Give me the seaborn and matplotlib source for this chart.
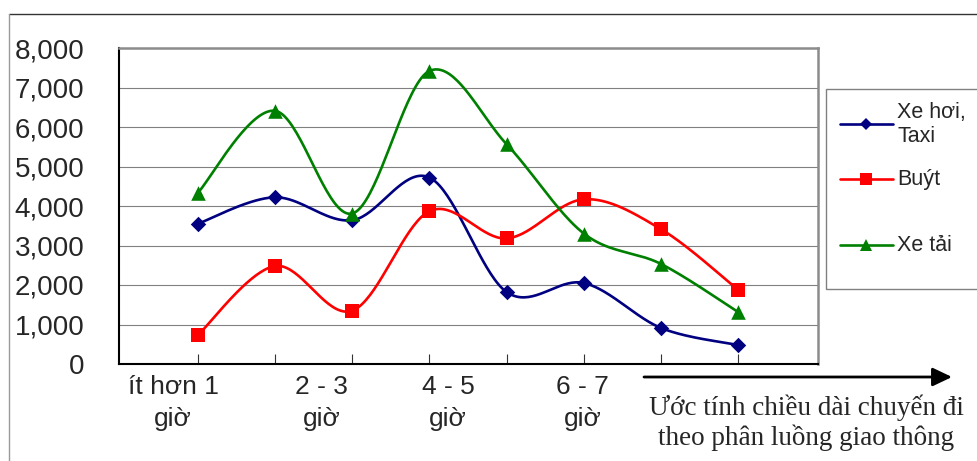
import numpy as np
import pandas as pd
import seaborn as sns
import matplotlib.pyplot as plt
from matplotlib.lines import Line2D
from matplotlib.patches import Rectangle

# Trip-length classes (hours) along the category axis
categories = ["<1", "1-2", "2-3", "3-4", "4-5", "5-6", "6-7", ">7"]
car_taxi = [3550, 4220, 3640, 4720, 1820, 2050, 910, 480]
bus = [730, 2480, 1350, 3870, 3180, 4170, 3410, 1870]
truck = [4330, 6410, 3810, 7420, 5560, 3300, 2530, 1310]

series_names = ["Xe hơi,\nTaxi", "Buýt", "Xe tải"]
series_values = [car_taxi, bus, truck]
series_colors = ["#000080", "#FF0000", "#008000"]
series_markers = ["D", "s", "^"]
series_sizes = [62, 110, 110]

xtick_labels = ["ít hơn 1\ngiờ", "2 - 3\ngiờ", "4 - 5\ngiờ", "6 - 7\ngiờ"]
xtick_positions = [-0.32, 1.60, 3.24, 4.98]
yticks = [0, 1000, 2000, 3000, 4000, 5000, 6000, 7000, 8000]
axis_caption = ["Ước tính chiều dài chuyến đi", "theo phân luồng giao thông"]

sns.set_theme(style="white")
plt.rcParams["font.family"] = ["Liberation Sans", "DejaVu Sans"]

W, H = 977, 461
fig = plt.figure(figsize=(W / 100, H / 100), dpi=100)
ax = fig.add_axes([119 / W, 1 - 364 / H, (818 - 119) / W, (364 - 48) / H])


def smooth(xs, ys, n=40):
    """Catmull-Rom style Bezier smoothing through every point."""
    P = np.column_stack([xs, ys]).astype(float)
    ext = np.vstack([P[0], P, P[-1]])
    out = []
    t = np.linspace(0, 1, n)[:, None]
    for i in range(len(P) - 1):
        p0, p1, p2, p3 = ext[i], ext[i + 1], ext[i + 2], ext[i + 3]
        c1 = p1 + (p2 - p0) / 6.0
        c2 = p2 - (p3 - p1) / 6.0
        seg = ((1 - t) ** 3) * p1 + 3 * ((1 - t) ** 2) * t * c1 + 3 * (1 - t) * t ** 2 * c2 + t ** 3 * p2
        out.append(seg if i == 0 else seg[1:])
    out = np.vstack(out)
    return out[:, 0], out[:, 1]


xpos = np.arange(len(categories))
for vals, color, mk, sz in zip(series_values, series_colors, series_markers, series_sizes):
    sx, sy = smooth(xpos, vals)
    curve = pd.DataFrame({"x": sx, "y": sy})
    sns.lineplot(data=curve, x="x", y="y", sort=False, estimator=None,
                 color=color, lw=1.9, ax=ax, zorder=3)
    pts = pd.DataFrame({"x": xpos, "y": vals})
    sns.scatterplot(data=pts, x="x", y="y", marker=mk, s=sz, color=color,
                    edgecolor=color, linewidth=0, ax=ax, zorder=4)

ax.set_xlim(-1.02, 8.03)
ax.set_ylim(0, 8000)
ax.set_xlabel("")
ax.set_ylabel("")

# horizontal gridlines
ax.set_yticks(yticks)
ax.set_yticklabels([f"{v:,}" for v in yticks], fontsize=20)
ax.yaxis.grid(True, color="#808080", lw=0.8)
ax.xaxis.grid(False)
ax.tick_params(axis="y", length=0, pad=25)

# tick marks at each category, labels placed separately
ax.set_xticks(xpos, minor=True)
ax.set_xticks(xtick_positions)
ax.set_xticklabels(xtick_labels, fontsize=19, linespacing=1.4)
ax.tick_params(axis="x", which="major", length=0, pad=8)
ax.tick_params(axis="x", which="minor", direction="in", length=7.5,
               width=0.8, color="#333333", bottom=True)

for side in ["left", "bottom"]:
    ax.spines[side].set_color("black")
    ax.spines[side].set_linewidth(1.5)
for side in ["top", "right"]:
    ax.spines[side].set_color("#8c8c8c")
    ax.spines[side].set_linewidth(1.8)

# outer chart border
fig.add_artist(Line2D([9 / W, 1], [1 - 14 / H, 1 - 14 / H], color="#333333", lw=1.0,
                      transform=fig.transFigure))
fig.add_artist(Line2D([9 / W, 9 / W], [0, 1 - 14 / H], color="#9a9a9a", lw=1.0,
                      transform=fig.transFigure))

# legend box
fig.add_artist(Rectangle((826 / W, 1 - 289 / H), (990 - 826) / W, (289 - 89) / H,
                         transform=fig.transFigure, fill=False, edgecolor="#808080", lw=1.0))
legend_rows = [124.5, 179, 245]
legend_marker_sizes = [6.5, 8.8, 9.0]
for name, color, mk, ms, yy in zip(series_names, series_colors, series_markers,
                                   legend_marker_sizes, legend_rows):
    yf = 1 - yy / H
    fig.add_artist(Line2D([840 / W, 893 / W], [yf, yf], color=color, lw=1.9,
                          transform=fig.transFigure))
    fig.add_artist(Line2D([866 / W], [yf], marker=mk, markersize=ms,
                          color=color, markeredgewidth=0, transform=fig.transFigure))
    fig.text(897 / W, yf, name, fontsize=15.5, va="center", ha="left", linespacing=1.15)

# direction arrow and caption
ax.annotate("", xy=(952, H - 377), xytext=(644, H - 377), xycoords="figure pixels",
            textcoords="figure pixels",
            arrowprops=dict(arrowstyle="-|>,head_length=0.42,head_width=0.2",
                            lw=2.0, color="black", mutation_scale=28,
                            shrinkA=0, shrinkB=0))
for line, base in zip(axis_caption, [415, 445]):
    fig.text(806 / W, 1 - base / H, line, fontsize=19.5, family="Liberation Serif",
             ha="center", va="baseline")

fig.savefig("out.png", dpi=100)
